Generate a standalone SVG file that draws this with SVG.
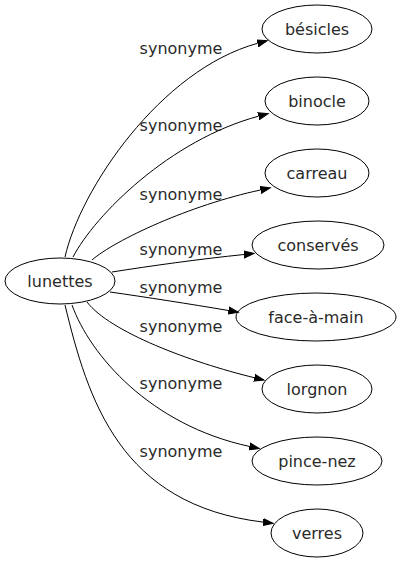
<svg xmlns="http://www.w3.org/2000/svg" width="401" height="563" viewBox="0 0 401 563">
<style>
.node ellipse{fill:none;stroke:#000;stroke-width:1}
.node text{font-family:"DejaVu Sans",sans-serif;font-size:16px;text-anchor:middle;fill:#2a2a2a}
.edges path{fill:none;stroke:#000;stroke-width:1}
.edges text{font-family:"DejaVu Sans",sans-serif;font-size:16px;text-anchor:middle;fill:#2a2a2a}
</style>
<defs>
<marker id="arr" markerUnits="userSpaceOnUse" markerWidth="12" markerHeight="10" refX="0" refY="0" viewBox="0 -5 12 10" orient="auto">
<polygon points="0,-3.5 10,0 0,3.5" fill="#000" stroke="#000" stroke-width="1"/>
</marker>
</defs>
<rect width="401" height="563" fill="#fff"/>
<g class="edges" id="connectors">
<path d="M65,257 C80,190 160,70 257.6,43.3" marker-end="url(#arr)"/>
<text x="181" y="54">synonyme</text>
<path d="M73,257 C95,215 170,140 258.5,116.2" marker-end="url(#arr)"/>
<text x="181" y="131">synonyme</text>
<path d="M92,260 C115,240 190,205 260.5,190" marker-end="url(#arr)"/>
<text x="181" y="200">synonyme</text>
<path d="M112,272 C150,266 200,259 244,254.5" marker-end="url(#arr)"/>
<text x="181" y="255">synonyme</text>
<path d="M110,292 C145,297 190,304 228.5,310.5" marker-end="url(#arr)"/>
<text x="181" y="293">synonyme</text>
<path d="M87,302 C110,332 190,362 254.3,377.7" marker-end="url(#arr)"/>
<text x="181" y="332">synonyme</text>
<path d="M72,305 C90,355 150,425 249.4,446.4" marker-end="url(#arr)"/>
<text x="181" y="389">synonyme</text>
<path d="M65,305 C88,400 120,505 263.2,522.1" marker-end="url(#arr)"/>
<text x="181" y="457">synonyme</text>
</g>
<g class="node" id="lunettes"><ellipse cx="60" cy="281" rx="55" ry="23"/><text x="60" y="287">lunettes</text></g>
<g class="node" id="besicles"><ellipse cx="317" cy="29" rx="55" ry="24"/><text x="317" y="35">bésicles</text></g>
<g class="node" id="binocle"><ellipse cx="317" cy="101" rx="52" ry="24"/><text x="317" y="107">binocle</text></g>
<g class="node" id="carreau"><ellipse cx="317" cy="173" rx="52" ry="24"/><text x="317" y="179">carreau</text></g>
<g class="node" id="conserves"><ellipse cx="318" cy="245" rx="66" ry="24"/><text x="318" y="251">conservés</text></g>
<g class="node" id="face-a-main"><ellipse cx="316" cy="317" rx="80" ry="24"/><text x="316" y="323">face-à-main</text></g>
<g class="node" id="lorgnon"><ellipse cx="317" cy="389" rx="55" ry="24"/><text x="317" y="395">lorgnon</text></g>
<g class="node" id="pince-nez"><ellipse cx="317" cy="461" rx="65" ry="24"/><text x="317" y="467">pince-nez</text></g>
<g class="node" id="verres"><ellipse cx="317" cy="533" rx="46" ry="24"/><text x="317" y="539">verres</text></g>
</svg>
